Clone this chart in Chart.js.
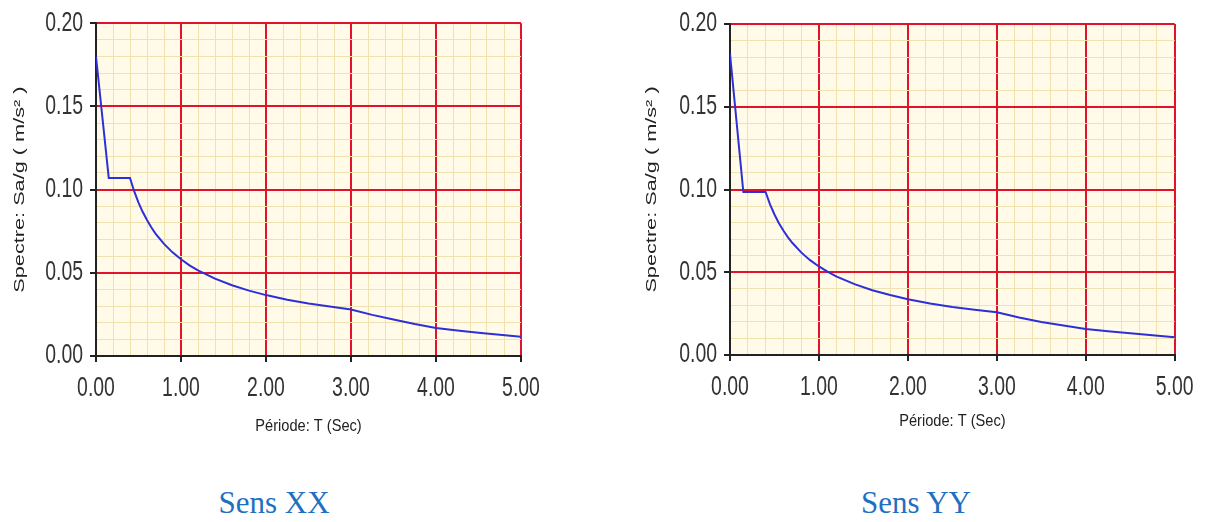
<!DOCTYPE html>
<html>
<head>
<meta charset="utf-8">
<script src="https://cdn.jsdelivr.net/npm/chart.js@4.4.1/dist/chart.umd.min.js"></script>
<style>
  html, body { margin: 0; padding: 0; background: #ffffff; }
  body { width: 1211px; height: 522px; position: relative; overflow: hidden; }
  .box { position: absolute; }
  .cap { position: absolute; font-family: 'Liberation Serif', 'Times New Roman', serif; font-size: 31px; color: #1f70c1; white-space: nowrap; transform: translateX(-50%); }
</style>
</head>
<body>
<div class="box" id="bx" style="left:0px; top:0px; width:560px; height:460px;"><canvas id="cx"></canvas></div>
<div class="box" id="by" style="left:634px; top:0px; width:577px; height:460px;"><canvas id="cy"></canvas></div>
<div class="cap" style="left:274px; top:485px;">Sens XX</div>
<div class="cap" style="left:916px; top:485px;">Sens YY</div>
<script>
// Period values (s)
const periods = [0, 0.15, 0.4, 0.45, 0.5, 0.55, 0.6, 0.65, 0.7, 0.8, 0.9, 1.0, 1.1, 1.2, 1.4, 1.6, 1.8, 2.0, 2.25, 2.5, 2.75, 3.0, 3.25, 3.5, 3.75, 4.0, 4.25, 4.5, 4.75, 5.0];
// Spectrum Sa/g — direction XX
const spectreXX = [0.180, 0.107, 0.107, 0.0989, 0.0922, 0.0865, 0.0817, 0.0774, 0.0736, 0.0674, 0.0623, 0.0581, 0.0545, 0.0515, 0.0465, 0.0425, 0.0393, 0.0366, 0.0338, 0.0315, 0.0297, 0.0280, 0.0247, 0.0219, 0.0192, 0.0168, 0.0153, 0.0140, 0.0127, 0.0116];
// Spectrum Sa/g — direction YY
const spectreYY = [0.182, 0.0985, 0.0985, 0.0910, 0.0849, 0.0796, 0.0752, 0.0712, 0.0678, 0.0620, 0.0573, 0.0535, 0.0502, 0.0474, 0.0428, 0.0391, 0.0362, 0.0337, 0.0311, 0.0290, 0.0273, 0.0258, 0.0227, 0.0200, 0.0178, 0.0157, 0.0143, 0.0131, 0.0120, 0.0107];
// Axis ticks
const xTickLabels = ['0.00', '1.00', '2.00', '3.00', '4.00', '5.00'];
const yTickLabels = ['0.00', '0.05', '0.10', '0.15', '0.20'];
const xTitle = 'Période: T (Sec)';
const yTitle = 'Spectre: Sa/g ( m/s² )';

const FAMILY = "'Liberation Sans', Arial, sans-serif";
const TICK_FONT = { family: FAMILY, size: 27 };
const XTITLE_FONT = { family: FAMILY, size: 17 };
const YTITLE_FONT = { family: FAMILY, size: 14 };
const RED = '#e3122c';
const MINOR = '#f1e1ae';
const AXIS = '#222222';

// horizontal text scaling per font size (narrow tick labels, stretched y title)
const TEXT_SCALE = { '27px': 0.72, '17px': 0.86, '14px': 1.55 };
function patchContext(canvas) {
  const ctx = canvas.getContext('2d');
  const orig = ctx.fillText.bind(ctx);
  ctx.fillText = function (text, x, y) {
    const m = /(\d+)px/.exec(ctx.font);
    const sx = m ? TEXT_SCALE[m[1] + 'px'] : undefined;
    if (!sx) return orig(text, x, y);
    ctx.save();
    ctx.translate(x, y);
    ctx.scale(sx, 1);
    orig(text, 0, 0);
    ctx.restore();
  };
}

function isMajor(v, step) {
  const r = v / step;
  return Math.abs(r - Math.round(r)) < 1e-6;
}

const bgPlugin = {
  id: 'plotBg',
  beforeDraw(chart) {
    const { ctx, chartArea: a } = chart;
    ctx.save();
    ctx.fillStyle = '#fffbe8';
    ctx.fillRect(a.left, a.top, a.right - a.left, a.bottom - a.top);
    ctx.restore();
  }
};

function makeChart(id, values, pad, yW, xH, yTitlePad, xTitlePad) {
  const canvas = document.getElementById(id);
  patchContext(canvas);
  const pts = periods.map((t, i) => ({ x: t, y: values[i] }));
  return new Chart(canvas, {
    type: 'line',
    data: {
      datasets: [{
        data: pts,
        borderColor: '#2d2fd8',
        borderWidth: 2,
        pointRadius: 0,
        tension: 0,
        fill: false
      }]
    },
    plugins: [bgPlugin],
    options: {
      responsive: true,
      maintainAspectRatio: false,
      animation: false,
      layout: { padding: pad },
      plugins: { legend: { display: false }, tooltip: { enabled: false } },
      scales: {
        x: {
          type: 'linear',
          min: 0, max: 5,
          afterFit(s) { s.height = xH; },
          ticks: {
            stepSize: 0.2,
            autoSkip: false,
            maxRotation: 0,
            padding: 10,
            color: '#333333',
            font: TICK_FONT,
            callback(v) {
              if (!isMajor(v, 1)) return '';
              return xTickLabels[Math.round(v)];
            }
          },
          grid: {
            color: c => isMajor(c.tick.value, 1) ? RED : MINOR,
            lineWidth: c => isMajor(c.tick.value, 1) ? 2 : 1,
            tickColor: c => isMajor(c.tick.value, 1) ? AXIS : 'rgba(0,0,0,0)',
            tickLength: 6,
            tickWidth: 2
          },
          border: { display: true, color: AXIS, width: 2 },
          title: {
            display: true,
            text: xTitle,
            color: '#222222',
            font: XTITLE_FONT,
            padding: { top: 0, bottom: xTitlePad }
          }
        },
        y: {
          min: 0, max: 0.2,
          afterFit(s) { s.width = yW; },
          ticks: {
            stepSize: 0.01,
            autoSkip: false,
            padding: 7,
            color: '#333333',
            font: TICK_FONT,
            callback(v) {
              if (!isMajor(v, 0.05)) return '';
              return yTickLabels[Math.round(v / 0.05)];
            }
          },
          grid: {
            color: c => isMajor(c.tick.value, 0.05) ? RED : MINOR,
            lineWidth: c => isMajor(c.tick.value, 0.05) ? 2 : 1,
            tickColor: c => isMajor(c.tick.value, 0.05) ? AXIS : 'rgba(0,0,0,0)',
            tickLength: 6,
            tickWidth: 2
          },
          border: { display: true, color: AXIS, width: 2 },
          title: {
            display: true,
            text: yTitle,
            color: '#222222',
            font: YTITLE_FONT,
            padding: { top: yTitlePad, bottom: 0 }
          }
        }
      }
    }
  });
}

makeChart('cx', spectreXX, { left: 0, top: 22, right: 39, bottom: 0 }, 96, 104, 12, 23);
makeChart('cy', spectreYY, { left: 0, top: 24, right: 34, bottom: 0 }, 96, 105, 10, 28);
</script>
</body>
</html>
